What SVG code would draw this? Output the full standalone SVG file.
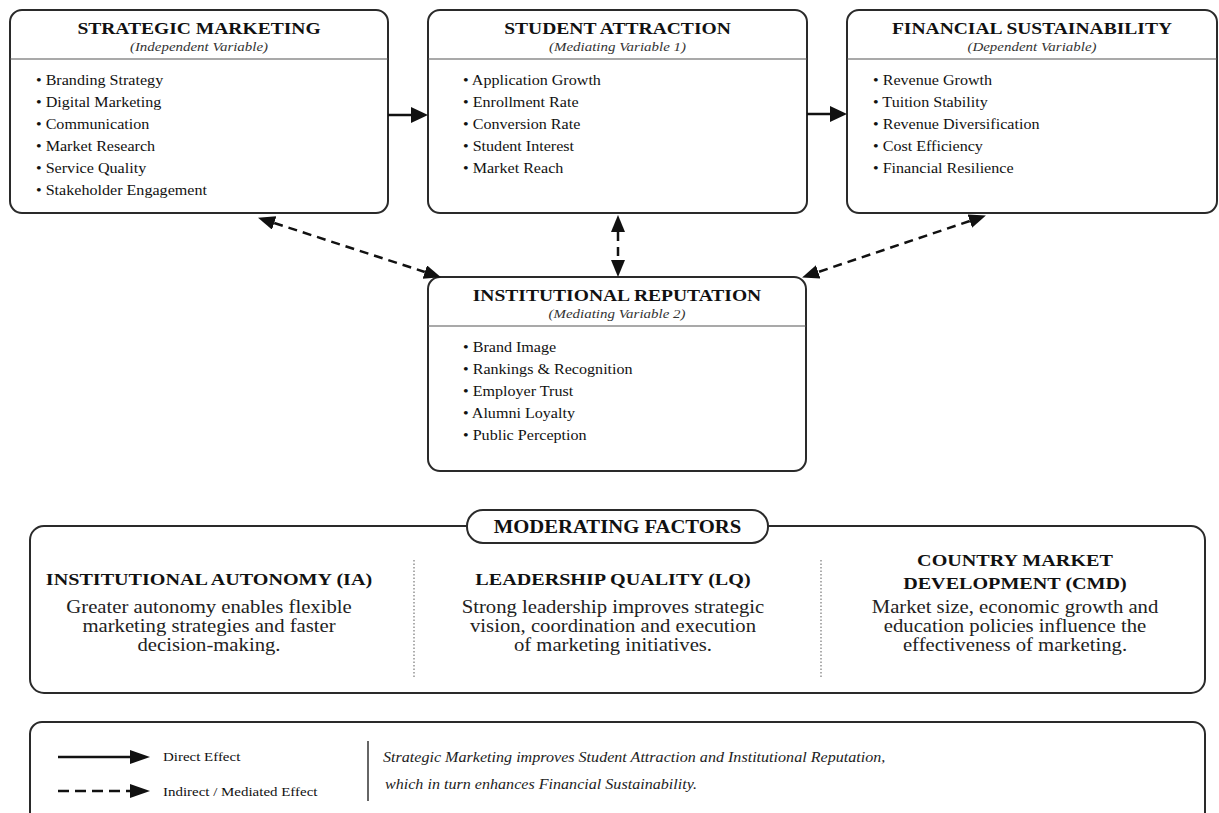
<svg xmlns="http://www.w3.org/2000/svg" width="1219" height="813" viewBox="0 0 1219 813">
<style>
.bg{fill:#fff}
.box{fill:#fff;stroke:#2a2a2a;stroke-width:2}
.div{stroke:#555;stroke-width:1.2}
.dot{stroke:#777;stroke-width:1.2;stroke-dasharray:1.5 2}
.t{font-family:"Liberation Serif","Times New Roman",serif;fill:#111}
.t text{font-family:"Liberation Serif","Times New Roman",serif}
.title{font-weight:bold;font-size:17px;text-anchor:middle}
.sub{font-style:italic;font-size:13px;text-anchor:middle;fill:#333}
.item{font-size:14px}
.mh{font-weight:bold;font-size:17.5px;text-anchor:middle}
.mb{font-size:18px;text-anchor:middle;fill:#222}
.pill{font-weight:bold;font-size:18px;text-anchor:middle}
.lg{font-size:13px}
.lgi{font-style:italic;font-size:14px;fill:#222}
.conn{stroke:#111;stroke-width:2.5;fill:none}
.dash{stroke-dasharray:9 6}
.ldash{stroke-dasharray:11 6}
</style>
<defs>
<marker id="ah" markerUnits="userSpaceOnUse" markerWidth="18" markerHeight="16" refX="0" refY="8" orient="auto-start-reverse">
<path d="M0,0 L17,8 L0,16 z" fill="#111"/>
</marker>
<marker id="ahd" markerUnits="userSpaceOnUse" markerWidth="18" markerHeight="15" refX="0" refY="7" orient="auto-start-reverse">
<path d="M0,0 L17,7 L0,14 z" fill="#111"/>
</marker>
<marker id="ahl" markerUnits="userSpaceOnUse" markerWidth="21" markerHeight="15" refX="0" refY="7" orient="auto">
<path d="M0,0 L20,7 L0,14 z" fill="#111"/>
</marker>
</defs>
<rect class="bg" x="0" y="0" width="1219" height="813"/>

<g id="strategic-marketing">
<rect class="box" x="10" y="10" width="378" height="203" rx="12"/>
<line class="div" x1="10" y1="59" x2="388" y2="59"/>
<g class="t" transform="scale(1.15,1)">
<text class="title" x="173.04" y="34">STRATEGIC MARKETING</text>
<text class="sub" x="173.04" y="51">(Independent Variable)</text>
<text class="item" x="31.3" y="85">• Branding Strategy</text>
<text class="item" x="31.3" y="107">• Digital Marketing</text>
<text class="item" x="31.3" y="129">• Communication</text>
<text class="item" x="31.3" y="151">• Market Research</text>
<text class="item" x="31.3" y="173">• Service Quality</text>
<text class="item" x="31.3" y="195">• Stakeholder Engagement</text>
</g>
</g>

<g id="student-attraction">
<rect class="box" x="428" y="10" width="379" height="203" rx="12"/>
<line class="div" x1="428" y1="59" x2="807" y2="59"/>
<g class="t" transform="scale(1.15,1)">
<text class="title" x="536.96" y="34">STUDENT ATTRACTION</text>
<text class="sub" x="536.96" y="51">(Mediating Variable 1)</text>
<text class="item" x="402.61" y="85">• Application Growth</text>
<text class="item" x="402.61" y="107">• Enrollment Rate</text>
<text class="item" x="402.61" y="129">• Conversion Rate</text>
<text class="item" x="402.61" y="151">• Student Interest</text>
<text class="item" x="402.61" y="173">• Market Reach</text>
</g>
</g>

<g id="financial-sustainability">
<rect class="box" x="847" y="10" width="370" height="203" rx="12"/>
<line class="div" x1="847" y1="59" x2="1217" y2="59"/>
<g class="t" transform="scale(1.15,1)">
<text class="title" x="897.39" y="34">FINANCIAL SUSTAINABILITY</text>
<text class="sub" x="897.39" y="51">(Dependent Variable)</text>
<text class="item" x="759.13" y="85">• Revenue Growth</text>
<text class="item" x="759.13" y="107">• Tuition Stability</text>
<text class="item" x="759.13" y="129">• Revenue Diversification</text>
<text class="item" x="759.13" y="151">• Cost Efficiency</text>
<text class="item" x="759.13" y="173">• Financial Resilience</text>
</g>
</g>

<g id="institutional-reputation">
<rect class="box" x="428" y="277" width="378" height="194" rx="12"/>
<line class="div" x1="428" y1="326" x2="806" y2="326"/>
<g class="t" transform="scale(1.15,1)">
<text class="title" x="536.52" y="301">INSTITUTIONAL REPUTATION</text>
<text class="sub" x="536.52" y="318">(Mediating Variable 2)</text>
<text class="item" x="402.61" y="352">• Brand Image</text>
<text class="item" x="402.61" y="374">• Rankings &amp; Recognition</text>
<text class="item" x="402.61" y="396">• Employer Trust</text>
<text class="item" x="402.61" y="418">• Alumni Loyalty</text>
<text class="item" x="402.61" y="440">• Public Perception</text>
</g>
</g>

<g id="connectors">
<line class="conn" x1="388" y1="115" x2="411" y2="115" marker-end="url(#ah)"/>
<line class="conn" x1="807" y1="114" x2="830" y2="114" marker-end="url(#ah)"/>
<line class="conn dash" x1="274.2" y1="223" x2="424.8" y2="272" marker-start="url(#ahd)" marker-end="url(#ahd)"/>
<line class="conn dash" x1="618" y1="232" x2="618" y2="260" marker-start="url(#ahd)" marker-end="url(#ahd)"/>
<line class="conn dash" x1="969.8" y1="221" x2="818.2" y2="272" marker-start="url(#ahd)" marker-end="url(#ahd)"/>
</g>

<g id="moderating-factors">
<rect class="box" x="30" y="526" width="1175" height="167" rx="14"/>
<rect class="box" x="467" y="510" width="301" height="33" rx="16"/>
<line class="dot" x1="414" y1="560" x2="414" y2="678"/>
<line class="dot" x1="821" y1="560" x2="821" y2="678"/>
<g class="t" transform="scale(1.15,1)">
<text class="pill" x="536.96" y="533">MODERATING FACTORS</text>
<text class="mh" x="181.74" y="585">INSTITUTIONAL AUTONOMY (IA)</text>
<text class="mb" x="181.74" y="613">Greater autonomy enables flexible</text>
<text class="mb" x="181.74" y="632">marketing strategies and faster</text>
<text class="mb" x="181.74" y="651">decision-making.</text>
<text class="mh" x="533.04" y="585">LEADERSHIP QUALITY (LQ)</text>
<text class="mb" x="533.04" y="613">Strong leadership improves strategic</text>
<text class="mb" x="533.04" y="632">vision, coordination and execution</text>
<text class="mb" x="533.04" y="651">of marketing initiatives.</text>
<text class="mh" x="882.61" y="566">COUNTRY MARKET</text>
<text class="mh" x="882.61" y="589">DEVELOPMENT (CMD)</text>
<text class="mb" x="882.61" y="613">Market size, economic growth and</text>
<text class="mb" x="882.61" y="632">education policies influence the</text>
<text class="mb" x="882.61" y="651">effectiveness of marketing.</text>
</g>
</g>

<g id="legend">
<rect class="box" x="30" y="722" width="1175" height="110" rx="12"/>
<line class="conn" x1="58" y1="757" x2="130" y2="757" marker-end="url(#ahl)"/>
<line class="conn ldash" x1="58" y1="791" x2="130" y2="791" marker-end="url(#ahl)"/>
<line stroke="#333" stroke-width="1.5" x1="368" y1="741" x2="368" y2="801"/>
<g class="t" transform="scale(1.15,1)">
<text class="lg" x="141.74" y="761">Direct Effect</text>
<text class="lg" x="141.74" y="796">Indirect / Mediated Effect</text>
<text class="lgi" x="333.04" y="762">Strategic Marketing improves Student Attraction and Institutional Reputation,</text>
<text class="lgi" x="334.78" y="789">which in turn enhances Financial Sustainability.</text>
</g>
</g>
</svg>
